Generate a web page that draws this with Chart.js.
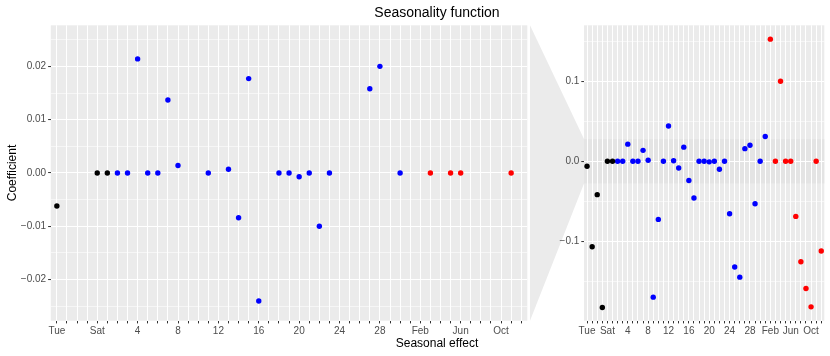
<!DOCTYPE html>
<html><head><meta charset="utf-8">
<script src="https://cdn.jsdelivr.net/npm/chart.js@4.4.1/dist/chart.umd.min.js"></script>
<style>
html,body{margin:0;padding:0;background:#fff;}
#wrap{position:relative;width:830px;height:356px;overflow:hidden;font-family:"Liberation Sans",Arial,sans-serif;}
#left{position:absolute;left:0;top:0;}
#right{position:absolute;left:530px;top:0;}
.t{position:absolute;white-space:nowrap;text-align:center;color:#000;}
</style></head><body>
<div id="wrap">
<canvas id="left" width="530" height="356"></canvas>
<canvas id="right" width="300" height="356"></canvas>
<div class="t" style="left:287px;width:300px;top:4.6px;font-size:14px;line-height:14px;">Seasonality function</div>
<div class="t" style="left:287px;width:300px;top:336.8px;font-size:12px;line-height:12px;">Seasonal effect</div>
</div>
<script>
// ---- data ----
const dayOfWeekLabels = ['Tue','Wed','Thu','Fri','Sat','Sun'];
const dayOfWeekValues = [-0.0062,-0.1066,-0.0416,-0.1825,0,0];
const dayOfMonthLabels = ['2','3','4','5','6','7','8','9','10','11','12','13','14','15','16','17','18','19','20','21','22','23','24','25','26','27','28','29','30','31'];
const dayOfMonthValues = [0,0,0.0214,0,0,0.0137,0.0014,-0.1696,-0.0725,0,0.044,0.0007,-0.0084,0.0177,-0.0240,-0.0458,0,0,-0.0007,0,-0.0100,0,-0.0654,-0.1320,-0.1446,0.0158,0.0200,-0.0530,0,0.0310];
const monthLabels = ['Feb','Mar','Apr','May','Jun','Jul','Aug','Sep','Oct','Nov','Dec'];
const monthValues = [0.1525,0,0.1000,0,0,-0.0688,-0.1254,-0.1588,-0.1817,0,-0.1120];
const categories = [...dayOfWeekLabels, ...dayOfMonthLabels, ...monthLabels];
const zoomRange = [-0.0277, 0.0277];
const fullRange = [-0.199, 0.1698];
const leftYBreaks = [-0.02,-0.01,0,0.01,0.02];
const leftYMinor = [-0.025,-0.015,-0.005,0.005,0.015,0.025];
const rightYBreaks = [-0.1,0,0.1];
const rightYMinor = [-0.15,-0.05,0.05,0.15];

Chart.defaults.font.family = '"Liberation Sans", Arial, sans-serif';

function groupData(values, offset){ return values.map((v,i)=>({x:i+offset, y:v})); }
function makeDatasets(){
  return [
    {data: groupData(dayOfWeekValues, 0), color:'#000000'},
    {data: groupData(dayOfMonthValues, dayOfWeekValues.length), color:'#0000FF'},
    {data: groupData(monthValues, dayOfWeekValues.length + dayOfMonthValues.length), color:'#FF0000'}
  ].map(d => ({data:d.data, pointRadius:2.7, pointBackgroundColor:d.color, pointBorderWidth:0, borderWidth:0, showLine:false, pointHoverRadius:2.7}));
}
const fmtMinus = s => s.replace('-', '\u2212');

const panelBg = {
  id:'panelBg',
  beforeDraw(chart, args, opts){
    const {ctx, chartArea:a} = chart;
    ctx.save();
    ctx.fillStyle = '#EBEBEB';
    ctx.fillRect(a.left, a.top, a.right-a.left, a.bottom-a.top);
    if (opts.zoom) {
      const y = chart.scales.y;
      const yt = y.getPixelForValue(opts.zoom[1]);
      const yb = y.getPixelForValue(opts.zoom[0]);
      ctx.fillStyle = '#E4E4E4';
      ctx.fillRect(a.left, yt, a.right-a.left, yb-yt);
      ctx.fillStyle = '#EBEBEB';
      ctx.beginPath();
      ctx.moveTo(0, a.top);
      ctx.lineTo(a.left, yt);
      ctx.lineTo(a.left, yb);
      ctx.lineTo(0, a.bottom);
      ctx.closePath();
      ctx.fill();
    }
    ctx.restore();
  }
};

function makeChart(id, yRange, breaks, minor, decimals, yWidth, padRight, zoom, title){
  const yTicks = [...breaks, ...minor].sort((a,b)=>a-b);
  const isMajor = v => breaks.some(b => Math.abs(b - v) < 1e-9);
  return new Chart(document.getElementById(id), {
    type:'scatter',
    data:{datasets: makeDatasets()},
    plugins:[panelBg],
    options:{
      responsive:false, animation:false,
      layout:{padding:{top:25.3, right:padRight, left:0, bottom:0}},
      plugins:{legend:{display:false}, tooltip:{enabled:false}, panelBg:{zoom:zoom}},
      scales:{
        x:{type:'linear', min:-0.6, max:categories.length-1+0.6,
          afterBuildTicks: s => { s.ticks = categories.map((_,i)=>({value:i})); },
          afterFit: s => { s.height = 35.3; },
          border:{display:false},
          grid:{color:'#FFFFFF', lineWidth:1, drawTicks:true, tickLength:2.7, tickColor:'#333333', tickWidth:1},
          ticks:{autoSkip:false, maxRotation:0, minRotation:0, padding:1.5, color:'#4D4D4D', font:{size:10},
            callback: v => (Number.isInteger(v) && v % 4 === 0) ? categories[v] : ''}
        },
        y:{type:'linear', min:yRange[0], max:yRange[1],
          afterBuildTicks: s => { s.ticks = yTicks.map(v=>({value:v})); },
          afterFit: s => { s.width = yWidth; },
          border:{display:false},
          grid:{color:'#FFFFFF', lineWidth: c => (c.tick && !isMajor(c.tick.value)) ? 0.55 : 1.1,
            drawTicks:true, tickLength:2.7, tickWidth:1,
            tickColor: c => (c.tick && !isMajor(c.tick.value)) ? 'rgba(0,0,0,0)' : '#333333'},
          ticks:{padding:2, color:'#4D4D4D', font:{size:10},
            callback: v => isMajor(v) ? fmtMinus((Math.abs(v) < 1e-12 ? 0 : v).toFixed(decimals)) : ''},
          title: title ? {display:true, text:title, color:'#000000', font:{size:12}, padding:{top:5, bottom:0}} : {display:false}
        }
      }
    }
  });
}

makeChart('left', zoomRange, leftYBreaks, leftYMinor, 2, 50.8, 0, null, 'Coefficient');
makeChart('right', fullRange, rightYBreaks, rightYMinor, 1, 54, 5.7, zoomRange, null);
</script>
</body></html>
